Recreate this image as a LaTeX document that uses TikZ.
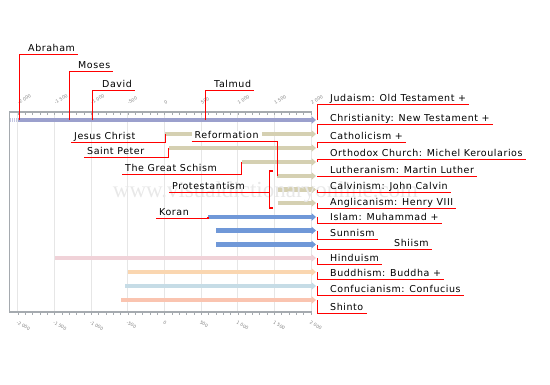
\documentclass[tikz,border=0pt]{standalone}
\usepackage{fontspec}
\usepackage{tikz}
\usetikzlibrary{arrows.meta,positioning}
\newfontfamily\lblfont{DejaVu Sans}[LetterSpace=6]
\newfontfamily\yrfont{DejaVu Sans}
\newfontfamily\wmfont{Liberation Serif}
\definecolor{axisgray}{RGB}{165,170,175}
\definecolor{gridgray}{RGB}{230,230,230}
\definecolor{judcol}{RGB}{155,160,205}
\definecolor{chrcol}{RGB}{213,208,178}
\definecolor{islcol}{RGB}{112,152,216}
\definecolor{hincol}{RGB}{240,210,216}
\definecolor{budcol}{RGB}{250,214,176}
\definecolor{concol}{RGB}{198,220,230}
\definecolor{shicol}{RGB}{250,196,176}
\definecolor{linkred}{RGB}{255,0,0}
\tikzstyle{lbl} = [font=\lblfont\fontsize{9.5}{11}\selectfont, inner xsep=3pt,
    inner ysep=0pt, text height=7.5pt, text depth=3pt, anchor=south west]
\tikzstyle{link} = [draw=linkred, line width=1.2pt]
\tikzstyle{bar} = [line width=4.5pt, -{Triangle[length=4.5pt,width=7.5pt]}]
\tikzstyle{yr} = [font=\yrfont\fontsize{4.5}{5}\selectfont, text=gray, inner sep=0pt, anchor=west]

\begin{document}
\begin{tikzpicture}[x=1pt,y=-1pt]
\useasboundingbox (0,0) rectangle (550,384);

% grid and axes
\foreach \t in {-2000,-1500,...,2000}
  \draw[gridgray, line width=0.8pt] ({164.5+0.0733*\t},112) -- ({164.5+0.0733*\t},312);
\foreach \t in {-2000,-1900,...,2000} {
  \draw[axisgray, line width=0.6pt] ({164.5+0.0733*\t},112) -- ++(0,3);
  \draw[axisgray, line width=0.6pt] ({164.5+0.0733*\t},312) -- ++(0,3);
}
\draw[axisgray, line width=1.6pt] (9,112) -- (312,112);
\draw[axisgray, line width=1.6pt] (9,312) -- (312,312);
\draw[axisgray, line width=1.2pt] (9.5,112) -- (9.5,312);

\foreach \t/\s [count=\i] in {-2000/-2 000,-1500/-1 500,-1000/-1 000,-500/-500,0/0,
    500/500,1000/1 000,1500/1 500,2000/2 000} {
  \node[yr, rotate=30] (ytop\i) at ({164.5+0.0733*\t},103) {\s};
  \node[yr, rotate=-30] (ybot\i) at ({164.5+0.0733*\t-1},322) {\s};
}

% bars
\draw[judcol!60, line width=4.5pt, dash pattern=on 1pt off 1pt] (10,120) -- (18,120);
\draw[bar, judcol] (18,120) -- (316,120);
\draw[bar, chrcol] (165,134) -- (316,134);
\draw[bar, chrcol] (169,148) -- (316,148);
\draw[bar, chrcol] (242,162) -- (316,162);
\draw[bar, chrcol] (277,176) -- (316,176);
\draw[bar, chrcol] (278,189.5) -- (316,189.5);
\draw[bar, chrcol] (277.5,203) -- (316,203);
\draw[bar, islcol] (208,217) -- (316,217);
\draw[bar, islcol] (216,230.5) -- (316,230.5);
\draw[bar, islcol] (216,244.5) -- (316,244.5);
\draw[bar, hincol] (55,258) -- (316,258);
\draw[bar, budcol] (128,272) -- (316,272);
\draw[bar, concol] (125,286) -- (316,286);
\draw[bar, shicol] (121,300) -- (316,300);

\node[font=\wmfont\fontsize{23}{23}\selectfont, text=gray!18] (wmark) at (265.5,192)
  {www.visualdictionaryonline.com};

% bar ends
\coordinate (jud-e) at (317.5,120);
\coordinate (chr-e) at (317.5,134);
\coordinate (cat-e) at (317.5,148);
\coordinate (ort-e) at (317.5,162);
\coordinate (lut-e) at (317.5,176);
\coordinate (cal-e) at (317.5,189.5);
\coordinate (ang-e) at (317.5,203);
\coordinate (isl-e) at (317.5,217);
\coordinate (sun-e) at (317.5,230.5);
\coordinate (shi-e) at (317.5,244.5);
\coordinate (hin-e) at (317.5,258);
\coordinate (bud-e) at (317.5,272);
\coordinate (con-e) at (317.5,286);
\coordinate (sht-e) at (317.5,300);

% right labels
\node[lbl] (ljud) at (327,104.5) {Judaism: Old Testament +};
\node[lbl] (lchr) at (327,124.5) {Christianity: New Testament +};
\node[lbl] (lcat) at (327,142.5) {Catholicism +};
\node[lbl] (lort) at (327,159.5) {Orthodox Church: Michel Keroularios};
\node[lbl] (llut) at (327,176.5) {Lutheranism: Martin Luther};
\node[lbl] (lcal) at (327,192.5) {Calvinism: John Calvin};
\node[lbl] (lang) at (327,208.5) {Anglicanism: Henry VIII};
\node[lbl] (lisl) at (327,223.5) {Islam: Muhammad +};
\node[lbl] (lsun) at (327,239.5) {Sunnism};
\node[lbl] (lshi) at (391,249.5) {Shiism};
\node[lbl] (lhin) at (327,264.5) {Hinduism};
\node[lbl] (lbud) at (327,279.5) {Buddhism: Buddha +};
\node[lbl] (lcon) at (327,295.5) {Confucianism: Confucius};
\node[lbl] (lsht) at (327,313.5) {Shinto};

\draw[link] (jud-e) |- (ljud.south east);
\draw[link] (chr-e) |- (lchr.south east);
\draw[link] (cat-e) |- (lcat.south east);
\draw[link] (ort-e) |- (lort.south east);
\draw[link] (lut-e) |- (llut.south east);
\draw[link] (cal-e) |- (lcal.south east);
\draw[link] (ang-e) |- (lang.south east);
\draw[link] (isl-e) |- (lisl.south east);
\draw[link] (sun-e) |- (lsun.south east);
\draw[link] (shi-e) |- (lshi.south east);
\draw[link] (hin-e) |- (lhin.south east);
\draw[link] (bud-e) |- (lbud.south east);
\draw[link] (con-e) |- (lcon.south east);
\draw[link] (sht-e) |- (lsht.south east);

% events on the timeline
\coordinate (abr-p) at (19.5,120);
\coordinate (mos-p) at (69.5,120);
\coordinate (dav-p) at (92.5,120);
\coordinate (tal-p) at (205.5,120);
\coordinate (jc-p) at (165.5,134);
\coordinate (sp-p) at (168.5,148);
\coordinate (gs-p) at (241.5,162);
\coordinate (ref-p) at (277.5,176);
\coordinate (kor-p) at (208,217);

\node[lbl] (labr) at (25,54.5) {Abraham};
\node[lbl] (lmos) at (75,71.5) {Moses};
\node[lbl] (ldav) at (99,90.5) {David};
\node[lbl] (ltal) at (211,90.5) {Talmud};
\node[lbl] (ljc) at (71,142.5) {Jesus Christ};
\node[lbl] (lsp) at (84,157.5) {Saint Peter};
\node[lbl] (lgs) at (122,174.5) {The Great Schism};
\node[lbl, fill=white] (lref) at (191.5,141.5) {Reformation};
\node[lbl] (lpro) at (169,192.5) {Protestantism};
\node[lbl] (lkor) at (156,218.5) {Koran};

\draw[link] (abr-p) |- (labr.south east);
\draw[link] (mos-p) |- (lmos.south east);
\draw[link] (dav-p) |- (ldav.south east);
\draw[link] (tal-p) |- (ltal.south east);
\draw[link] (ljc.south west) -| (jc-p);
\draw[link] (lsp.south west) -| (sp-p);
\draw[link] (lgs.south west) -| (gs-p);
\draw[link] (lref.south west) -| (ref-p);
\draw[link] (lkor.south west) -| (kor-p);

% protestant bracket
\coordinate (brk) at (269.5,192.5);
\coordinate (brk-t) at (273,171);
\coordinate (brk-b) at (273,208);
\draw[link] (lpro.south west) -- (brk);
\draw[link] (brk-t) -| (brk) |- (brk-b);

\end{tikzpicture}
\end{document}
